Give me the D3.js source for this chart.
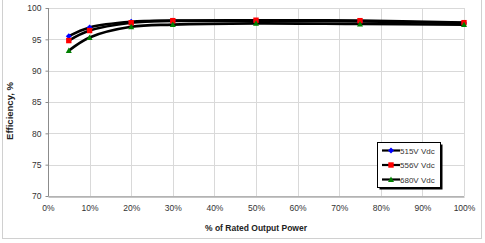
<!DOCTYPE html>
<html><head><meta charset="utf-8">
<script src="https://cdn.jsdelivr.net/npm/d3@7"></script>
<style>html,body{margin:0;padding:0;background:#fff;}svg{display:block;font-family:"Liberation Sans",Arial,sans-serif;}</style>
</head><body><svg id="c" width="485" height="243"></svg>
<script>
const loads = [5, 10, 20, 30, 50, 75, 100];
const eff515 = [95.5, 96.9, 97.8, 97.95, 97.95, 97.85, 97.6];
const eff556 = [94.8, 96.4, 97.65, 97.98, 98.05, 97.98, 97.66];
const eff680 = [93.2, 95.3, 97.0, 97.35, 97.55, 97.45, 97.35];
const seriesNames = ["515V Vdc", "556V Vdc", "680V Vdc"];
const seriesColors = ["#0000ff", "#ff0000", "#008000"];
const seriesShapes = ["diamond", "square", "triangle"];
const xTicks = [0,10,20,30,40,50,60,70,80,90,100];
const yTicks = [70,75,80,85,90,95,100];

const svg = d3.select("#c");
const x = d3.scaleLinear().domain([0,100]).range([48,464]);
const y = d3.scaleLinear().domain([70,100]).range([196,8]);

// outer frame
svg.append("rect").attr("x",2.5).attr("y",-1).attr("width",479).attr("height",239.5)
  .attr("fill","none").attr("stroke","#d0d0d0");

// gridlines
const g = svg.append("g");
g.selectAll(".hg").data(yTicks).join("line")
  .attr("x1",48).attr("x2",464).attr("y1",d=>Math.round(y(d))+0.5).attr("y2",d=>Math.round(y(d))+0.5)
  .attr("stroke","#d9d9d9");
g.selectAll(".vg").data(xTicks).join("line")
  .attr("y1",8).attr("y2",196).attr("x1",d=>Math.round(x(d))+0.5).attr("x2",d=>Math.round(x(d))+0.5)
  .attr("stroke","#d9d9d9");

// axes
const yAxis = d3.axisLeft(y).tickValues(yTicks).tickSize(3).tickPadding(4);
const xAxis = d3.axisBottom(x).tickValues(xTicks).tickFormat(d=>d+"%").tickSize(0).tickPadding(8);
const ya = svg.append("g").attr("transform","translate(48.5,0)").call(yAxis);
const xa = svg.append("g").attr("transform","translate(0,196.5)").call(xAxis);
[ya,xa].forEach(a=>{
  a.select(".domain").attr("stroke","#8c8c8c");
  a.selectAll(".tick line").attr("stroke","#8c8c8c");
  a.selectAll("text").attr("font-size","8.5px").attr("fill","#333")
   .attr("font-family","'Liberation Sans',Arial,sans-serif");
});
ya.select(".domain").attr("d","M-0,8V196");

// titles
svg.append("text").attr("x",256).attr("y",231).attr("text-anchor","middle")
  .attr("font-size","8.5px").attr("font-weight","bold").attr("fill","#222").text("% of Rated Output Power");
svg.append("text").attr("transform","translate(13,111) rotate(-90)").attr("text-anchor","middle")
  .attr("font-size","9.5px").attr("font-weight","bold").attr("fill","#222").text("Efficiency, %");

// lines
const allSeries = [eff515, eff556, eff680];
const line = d3.line().x((d,i)=>x(loads[i])).y(d=>y(d)).curve(d3.curveCatmullRom.alpha(0.5));
allSeries.forEach(s=>{
  svg.append("path").attr("d",line(s)).attr("fill","none").attr("stroke","#000").attr("stroke-width",2.6);
});

function marker(sel, shape, color, cx, cy){
  if(shape==="diamond"){
    sel.append("path").attr("d",`M${cx},${cy-3}L${cx+3},${cy}L${cx},${cy+3}L${cx-3},${cy}Z`).attr("fill",color);
  } else if(shape==="square"){
    sel.append("rect").attr("x",cx-2.7).attr("y",cy-2.7).attr("width",5.4).attr("height",5.4).attr("fill",color);
  } else {
    sel.append("path").attr("d",`M${cx},${cy-3}L${cx+3},${cy+2.5}L${cx-3},${cy+2.5}Z`).attr("fill",color);
  }
}
allSeries.forEach((s,k)=>{
  const mg = svg.append("g");
  s.forEach((v,i)=>marker(mg, seriesShapes[k], seriesColors[k], x(loads[i]), y(v)));
});

// legend
const lg = svg.append("g");
lg.append("rect").attr("x",379.5).attr("y",144.5).attr("width",63).attr("height",45).attr("fill","#000");
lg.append("rect").attr("x",377.5).attr("y",142.5).attr("width",63).attr("height",45).attr("fill","#fff").attr("stroke","#000");
seriesNames.forEach((n,k)=>{
  const cy = 150.5 + k*14.5;
  lg.append("line").attr("x1",382).attr("x2",400).attr("y1",cy).attr("y2",cy).attr("stroke","#000").attr("stroke-width",2.2);
  marker(lg, seriesShapes[k], seriesColors[k], 391, cy);
  lg.append("text").attr("x",400).attr("y",cy+3).attr("font-size","8px").attr("fill","#333").text(n);
});
</script></body></html>
